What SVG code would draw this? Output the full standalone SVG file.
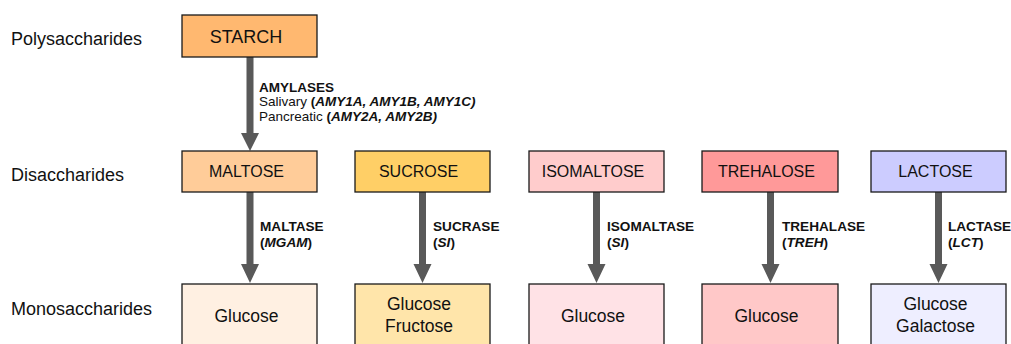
<svg xmlns="http://www.w3.org/2000/svg" width="1011" height="344" viewBox="0 0 1011 344">
<style>
.box{stroke:#1a1a1a;stroke-width:1.3}
.t{font-family:"Liberation Sans",Arial,sans-serif;fill:#111}
.lvl{font-size:18px}
.bt{font-size:16px;text-anchor:middle}
.st{font-size:18px;text-anchor:middle}
.mt{font-size:17.5px;text-anchor:middle}
.en{font-size:13.6px;font-weight:bold}
.am{font-size:13.5px}
.arr{fill:#595959}
</style>
<rect width="1011" height="344" fill="#ffffff"/>
<g id="levels">
<text class="t lvl" x="11" y="45">Polysaccharides</text>
<text class="t lvl" x="11" y="181">Disaccharides</text>
<text class="t lvl" x="11" y="315">Monosaccharides</text>
</g>
<g id="connectors">
<polygon class="arr" points="246.5,57 253.5,57 253.5,133 259,133 250,151 241,133 246.5,133"/>
<polygon class="arr" points="246.5,192 253.5,192 253.5,264 259,264 250,283 241,264 246.5,264"/>
<polygon class="arr" points="419,192 426,192 426,264 431.5,264 422.5,283 413.5,264 419,264"/>
<polygon class="arr" points="593,192 600,192 600,264 605.5,264 596.5,283 587.5,264 593,264"/>
<polygon class="arr" points="767,192 774,192 774,264 779.5,264 770.5,283 761.5,264 767,264"/>
<polygon class="arr" points="935,192 942,192 942,264 947.5,264 938.5,283 929.5,264 935,264"/>
<text class="t am" x="259" y="91.5" font-weight="bold">AMYLASES</text>
<text class="t am" x="259" y="106">Salivary <tspan font-weight="bold">(<tspan font-style="italic">AMY1A, AMY1B, AMY1C)</tspan></tspan></text>
<text class="t am" x="259" y="120.5">Pancreatic <tspan font-weight="bold">(<tspan font-style="italic">AMY2A, AMY2B)</tspan></tspan></text>
<text class="t en" x="260" y="230.5">MALTASE</text>
<text class="t en" x="260" y="247">(<tspan font-style="italic">MGAM</tspan>)</text>
<text class="t en" x="433" y="230.5">SUCRASE</text>
<text class="t en" x="433" y="247">(<tspan font-style="italic">SI</tspan>)</text>
<text class="t en" x="607" y="230.5">ISOMALTASE</text>
<text class="t en" x="607" y="247">(<tspan font-style="italic">SI</tspan>)</text>
<text class="t en" x="782" y="230.5">TREHALASE</text>
<text class="t en" x="782" y="247">(<tspan font-style="italic">TREH</tspan>)</text>
<text class="t en" x="948" y="230.5">LACTASE</text>
<text class="t en" x="948" y="247">(<tspan font-style="italic">LCT</tspan>)</text>
</g>
<g id="starch"><rect class="box" x="182" y="15" width="135" height="42" fill="#FFB870"/><text class="t st" x="246" y="43">STARCH</text></g>
<g id="maltose"><rect class="box" x="182" y="151" width="135" height="41" fill="#FFCC99"/><text class="t bt" x="246.5" y="177">MALTOSE</text></g>
<g id="sucrose"><rect class="box" x="355" y="151" width="135" height="41" fill="#FFCF66"/><text class="t bt" x="418.5" y="177">SUCROSE</text></g>
<g id="isomaltose"><rect class="box" x="529" y="151" width="135" height="41" fill="#FFCCCC"/><text class="t bt" x="593" y="177">ISOMALTOSE</text></g>
<g id="trehalose"><rect class="box" x="702" y="151" width="136" height="41" fill="#FF9999"/><text class="t bt" x="766.5" y="177">TREHALOSE</text></g>
<g id="lactose"><rect class="box" x="871" y="151" width="135" height="41" fill="#CCCCFF"/><text class="t bt" x="935.5" y="177">LACTOSE</text></g>
<g id="glucose1"><rect class="box" x="182" y="284" width="135" height="70" fill="#FFF0E2"/><text class="t mt" x="246.5" y="322">Glucose</text></g>
<g id="glucose-fructose"><rect class="box" x="355" y="284" width="135" height="70" fill="#FFE5AA"/><text class="t mt" x="419" y="310">Glucose</text><text class="t mt" x="419" y="332">Fructose</text></g>
<g id="glucose3"><rect class="box" x="529" y="284" width="135" height="70" fill="#FFE2E6"/><text class="t mt" x="593" y="322">Glucose</text></g>
<g id="glucose4"><rect class="box" x="702" y="284" width="136" height="70" fill="#FFC8C8"/><text class="t mt" x="766.5" y="322">Glucose</text></g>
<g id="glucose-galactose"><rect class="box" x="871" y="284" width="135" height="70" fill="#EEEEFF"/><text class="t mt" x="935.5" y="310">Glucose</text><text class="t mt" x="935.5" y="332">Galactose</text></g>
</svg>
